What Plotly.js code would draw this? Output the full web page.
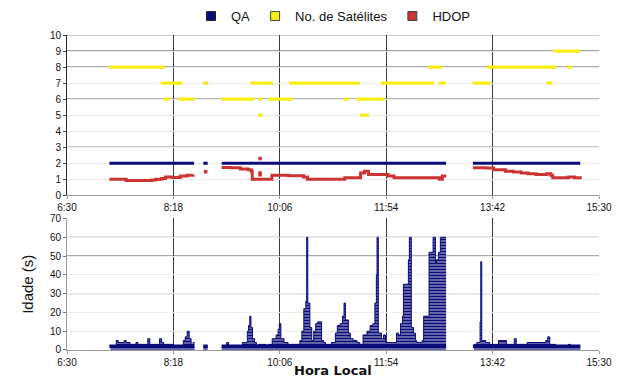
<!DOCTYPE html>
<html><head><meta charset="utf-8">
<script src="https://cdn.plot.ly/plotly-3.0.1.min.js"></script>
<style>html,body{margin:0;padding:0;background:#fff}#c{width:618px;height:379px}</style>
</head><body><div id="c"></div>
<script>
// time axis (minutes after midnight)
const tickMin = [390, 498, 606, 714, 822, 930];
const tickText = ['6:30', '8:18', '10:06', '11:54', '13:42', '15:30'];

// QA segments (value 2)
const qaStart = [433, 528.4, 547, 802];
const qaEnd   = [519, 532.8, 774.8, 911];
const qaValue = [2, 2, 2, 2];

// Number of satellites: constant runs
const satStart = [433, 485.3, 488.1, 503, 528.2, 547, 576.3, 584.3, 584.3, 594.3, 615.5, 671.2, 683.6, 687.2, 708.5, 756.5, 767.4, 801.8, 815.8, 876.7, 897.6, 883.9];
const satEnd   = [489.3, 507, 494.2, 519.4, 533.4, 580.3, 599.1, 588.3, 588.3, 619.1, 687.2, 676, 712.5, 696.5, 762.6, 770.6, 774.6, 819.8, 886.7, 882.7, 902, 910.8];
const satValue = [8, 7, 6, 6, 7, 6, 7, 6, 5, 6, 7, 6, 6, 5, 7, 8, 7, 7, 8, 7, 8, 9];

// HDOP (null = gap)
const hdopT = [433, 442, 450, 476, 480, 486, 490, 497, 505, 512, 518, null,
  547, 556, 566, 574, 577, 578, 597, 598, 615, 630, 634, 670, 672, 685, 688, 692, 696, 710, 716, 722, 765, 768, 771, 775, null,
  802, 815, 823, 835, 843, 851, 858, 866, 877, 881, 883, 895, 899, 905, 911];
const hdopV = [1.0, 1.0, 0.92, 0.95, 1.0, 1.05, 1.15, 1.12, 1.2, 1.25, 1.3, null,
  1.73, 1.72, 1.65, 1.6, 1.5, 1.0, 1.0, 1.25, 1.22, 1.15, 1.0, 1.0, 1.1, 1.1, 1.4, 1.5, 1.3, 1.3, 1.2, 1.1, 1.1, 1.0, 1.2, 1.2, null,
  1.72, 1.7, 1.6, 1.5, 1.45, 1.4, 1.35, 1.3, 1.35, 1.25, 1.1, 1.1, 1.15, 1.1, 1.0];
const hdopIsoT = [530.8, 586, 586, 586];
const hdopIsoV = [1.47, 2.3, 1.4, 1.28];

// Idade (s) (null = gap)
const idadeT = [434, 440, 442, 446, 448, 450, 454, 458, 460, 462, 466, 472, 474, 484, 486, 488, 496, 498, 506, 508, 510, 512, 514, 516, 518, 519.5, null,
  528.4, 532.8, null,
  547, 552, 554, 568, 573, 574.3, 575.5, 576.7, 578.3, 580.3, 582.3, 584.3, 590.3, 592.3, 594.3, 598.3, 602.3, 604.3, 605.5, 607.1, 610.3, 614.3, 620.3,
  626.4, 628.4, 630.4, 632.4, 633.3, 634.4, 636.5, 638.4, 640.4, 642.4, 644.4, 647.2, 648.4, 650.4, 652.4, 656.4, 658.4, 662.4, 664.4, 667.2, 669.6, 671.2,
  672.6, 675.6, 677.6, 680.4, 684.4, 687.2, 690.5, 694.5, 697.7, 700.5, 702.5, 704, 704.7, 706, 709.3, 711.3, 713.3, 720.5, 724.5, 726.5, 728.5, 730.5,
  731.5, 736.5, 737.5, 739.5, 741.7, 743.7, 745, 750.5, 752, 757.5, 761.6, 764, 765, 767, 769, 774.8, null,
  803, 806, 809.3, 810, 811, 815, 819, 825, 828, 836, 844, 846, 852, 857, 876, 878, 880, 886, 899, 901, 911];
const idadeV = [2, 5, 4, 4, 5, 4, 3, 3, 4, 3, 3, 6, 3, 6, 4, 3, 3, 2, 2, 5, 7, 10, 6, 3, 4, 4, null,
  2, 2, null,
  2, 4, 2, 4, 10, 13, 18, 12, 6, 4, 2, 3, 3, 2, 3, 6, 8, 11, 14, 6, 4, 3, 3,
  5, 10, 22, 26, 60, 25, 12, 5, 10, 14, 15, 15, 5, 4, 3, 3, 4, 9, 13, 14, 18, 25,
  16, 9, 6, 5, 4, 3, 8, 10, 13, 14, 25, 40, 60, 9, 6, 8, 4, 4, 9, 8, 14, 18,
  35, 48, 60, 12, 9, 5, 4, 5, 18, 52, 60, 46, 48, 52, 60, 60, null,
  3, 4, 15, 47, 5, 4, 3, 3, 5, 3, 6, 3, 3, 4, 5, 7, 3, 2, 3, 2, 2];
const idadeBase = [2, 2, 2, 2];

// strong grid lines (style)
const strongTop = [3, 6, 8, 9];
const strongBottom = [30, 50];

function segs(s, e, v) {
  const x = [], y = [];
  for (let i = 0; i < s.length; i++) { x.push(s[i], e[i], null); y.push(v[i], v[i], null); }
  return {x, y};
}
function splitOnNull(xs, ys) {
  const out = []; let cx = [], cy = [];
  for (let i = 0; i < xs.length; i++) {
    if (xs[i] === null || ys[i] === null) { if (cx.length) out.push({x: cx, y: cy}); cx = []; cy = []; }
    else { cx.push(xs[i]); cy.push(ys[i]); }
  }
  if (cx.length) out.push({x: cx, y: cy});
  return out;
}
const NAVY = '#0b0b78', YEL = '#f4ee12', RED = '#cc3333';
const FONT = 'Liberation Sans, Arial, sans-serif';

const qa = segs(qaStart, qaEnd, qaValue);
const sat = segs(satStart, satEnd, satValue);
const base = segs(qaStart, qaEnd, idadeBase);

const traces = [
  {x: sat.x, y: sat.y, mode: 'lines', line: {color: YEL, width: 3.3}, showlegend: false},
  {x: hdopT, y: hdopV, mode: 'lines', line: {color: RED, width: 3, shape: 'hv'}, showlegend: false},
  {x: hdopIsoT, y: hdopIsoV, mode: 'markers', marker: {color: RED, size: 3.5, symbol: 'square'}, showlegend: false},
  {x: qa.x, y: qa.y, mode: 'lines', line: {color: NAVY, width: 3}, showlegend: false}
];
splitOnNull(idadeT, idadeV).forEach(s => traces.push({
  x: s.x, y: s.y, xaxis: 'x2', yaxis: 'y2', mode: 'lines', line: {color: NAVY, width: 1, shape: 'hv'},
  fill: 'tozeroy', fillcolor: NAVY,
  fillpattern: {shape: '-', bgcolor: NAVY, fgcolor: '#ffffff', size: 3, solidity: 0.24},
  showlegend: false}));
traces.push(
  {x: base.x, y: base.y, xaxis: 'x2', yaxis: 'y2', mode: 'lines', line: {color: NAVY, width: 3.5}, showlegend: false},
  // legend entries
  {x: [null], y: [null], mode: 'markers', name: 'QA', marker: {symbol: 'square', size: 9, color: NAVY, line: {color: '#222', width: 1}}},
  {x: [null], y: [null], mode: 'markers', name: 'No. de Satélites', marker: {symbol: 'square', size: 9, color: YEL, line: {color: '#444', width: 1}}},
  {x: [null], y: [null], mode: 'markers', name: 'HDOP', marker: {symbol: 'square', size: 9, color: RED, line: {color: '#444', width: 1}}}
);

const xCommon = {
  range: [390, 930], tickmode: 'array', tickvals: tickMin, ticktext: tickText,
  showgrid: true, gridcolor: '#3a3a3a', gridwidth: 1, zeroline: false,
  showline: true, linecolor: '#9a9a9a', ticks: 'outside', ticklen: 3, tickcolor: '#9a9a9a',
  tickfont: {family: FONT, size: 10, color: '#111'}, fixedrange: true
};
const shapes = [];
strongTop.forEach(v => shapes.push({type: 'line', xref: 'x domain', yref: 'y', x0: 0, x1: 1, y0: v, y1: v, layer: 'below', line: {color: '#444', width: 1}}));
shapes.push({type: 'line', xref: 'x domain', yref: 'y', x0: 0, x1: 1, y0: 10, y1: 10, layer: 'below', line: {color: '#999', width: 1}});
strongBottom.forEach(v => shapes.push({type: 'line', xref: 'x2 domain', yref: 'y2', x0: 0, x1: 1, y0: v, y1: v, layer: 'below', line: {color: '#444', width: 1}}));
shapes.push({type: 'line', xref: 'x2 domain', yref: 'y2', x0: 0, x1: 1, y0: 60, y1: 60, layer: 'below', line: {color: '#888', width: 1}});

const layout = {
  width: 618, height: 379,
  margin: {l: 67, r: 19, t: 35, b: 29, autoexpand: false},
  paper_bgcolor: '#fff', plot_bgcolor: '#fff',
  showlegend: true,
  legend: {orientation: 'h', x: 0.5, xanchor: 'center', y: 1.06, yanchor: 'middle',
           font: {family: FONT, size: 13, color: '#111'}, itemwidth: 30, tracegroupgap: 0},
  xaxis: Object.assign({}, xCommon, {anchor: 'y', domain: [0, 1]}),
  yaxis: {domain: [0.491, 1], range: [0, 10], tickmode: 'array', tickvals: [0,1,2,3,4,5,6,7,8,9,10],
          showgrid: true, gridcolor: '#ececec', zeroline: false, showline: true, linecolor: '#222',
          ticks: 'outside', ticklen: 3, tickcolor: '#444', tickfont: {family: FONT, size: 10, color: '#111'}, fixedrange: true},
  xaxis2: Object.assign({}, xCommon, {anchor: 'y2', domain: [0, 1]}),
  yaxis2: {domain: [0, 0.4175], range: [0, 70], tickmode: 'array', tickvals: [0,10,20,30,40,50,60,70],
          showgrid: true, gridcolor: '#ececec', zeroline: false, showline: true, linecolor: '#9a9a9a',
          ticks: 'outside', ticklen: 3, tickcolor: '#777', tickfont: {family: FONT, size: 10, color: '#111'},
          title: {text: 'Idade (s)', font: {family: FONT, size: 15, color: '#111'}, standoff: 12}, fixedrange: true},
  annotations: [{text: 'Hora Local', xref: 'paper', yref: 'paper', x: 0.5, y: -0.0935, xanchor: 'center', yanchor: 'bottom',
                 showarrow: false, borderpad: 0, font: {family: 'DejaVu Sans, sans-serif', size: 13, color: '#111', weight: 'bold'}}],
  shapes: shapes
};
Plotly.newPlot('c', traces, layout, {displayModeBar: false, staticPlot: true});
</script></body></html>
